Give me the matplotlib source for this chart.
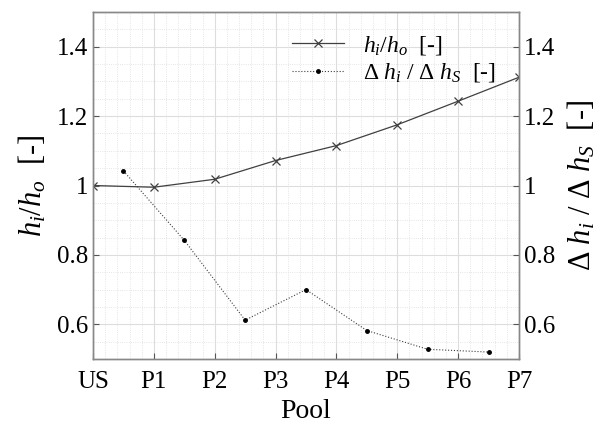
import numpy as np
import matplotlib.pyplot as plt
from matplotlib.ticker import MultipleLocator

plt.rcParams['font.family'] = ['Liberation Serif', 'DejaVu Serif']
plt.rcParams['mathtext.fontset'] = 'custom'
plt.rcParams['mathtext.it'] = 'Liberation Serif:italic'
plt.rcParams['mathtext.rm'] = 'Liberation Serif'

pools = ['US', 'P1', 'P2', 'P3', 'P4', 'P5', 'P6', 'P7']
h_ratio = [1.0, 0.995, 1.018, 1.072, 1.115, 1.175, 1.243, 1.312]
# delta values sit between pools
dh_pos = [0.5, 1.5, 2.5, 3.5, 4.5, 5.5, 6.5]
dh_ratio = [1.042, 0.842, 0.612, 0.700, 0.582, 0.528, 0.520]

fig = plt.figure(figsize=(6.01, 4.29), dpi=100)
ax = fig.add_axes([93/601, 70/429, 426/601, 347/429])
ax2 = ax.twinx()

l1, = ax.plot(range(len(pools)), h_ratio, '-x', color='#404040', lw=0.9,
              ms=6, mew=0.9, label='$h_i/h_o$  [-]')
l2, = ax2.plot(dh_pos, dh_ratio, ':', color='#404040', lw=0.8,
               marker='.', ms=5, mfc='black', mec='black',
               label=r'$\Delta\ h_i\ /\ \Delta\ h_S$  [-]')

for a in (ax, ax2):
    a.set_ylim(0.5, 1.5)
    a.set_yticks([0.6, 0.8, 1.0, 1.2, 1.4])
    a.set_yticklabels(['0.6', '0.8', '1', '1.2', '1.4'])
    a.tick_params(labelsize=18, color='#555555', direction='in', length=4)
    for s in a.spines.values():
        s.set_color('#888888')
        s.set_linewidth(1.0)

ax.set_xlim(0, 7)
ax.set_xticks(range(len(pools)))
ax.set_xticklabels(pools)
ax.xaxis.set_minor_locator(MultipleLocator(0.2))
ax.yaxis.set_minor_locator(MultipleLocator(0.05))
ax.tick_params(axis='x', pad=9)
ax.tick_params(which='minor', length=0)
ax.grid(True, which='major', color='#dddddd', lw=0.8)
ax.grid(True, which='minor', color='#dddddd', lw=0.6, ls=':')
ax.set_axisbelow(True)

ax.set_xlabel('Pool', fontsize=20, labelpad=4)
ax.set_ylabel('$h_i/h_o$  [-]', fontsize=22, labelpad=6)
ax2.set_ylabel(r'$\Delta\ h_i\ /\ \Delta\ h_S$  [-]', fontsize=22, labelpad=8)

leg = ax2.legend(handles=[l1, l2], loc='upper right', bbox_to_anchor=(0.985, 0.985),
                 fontsize=17, frameon=False,
                 handlelength=2.2, labelspacing=0.2, borderpad=0.2)

fig.savefig('out.png', dpi=100)
